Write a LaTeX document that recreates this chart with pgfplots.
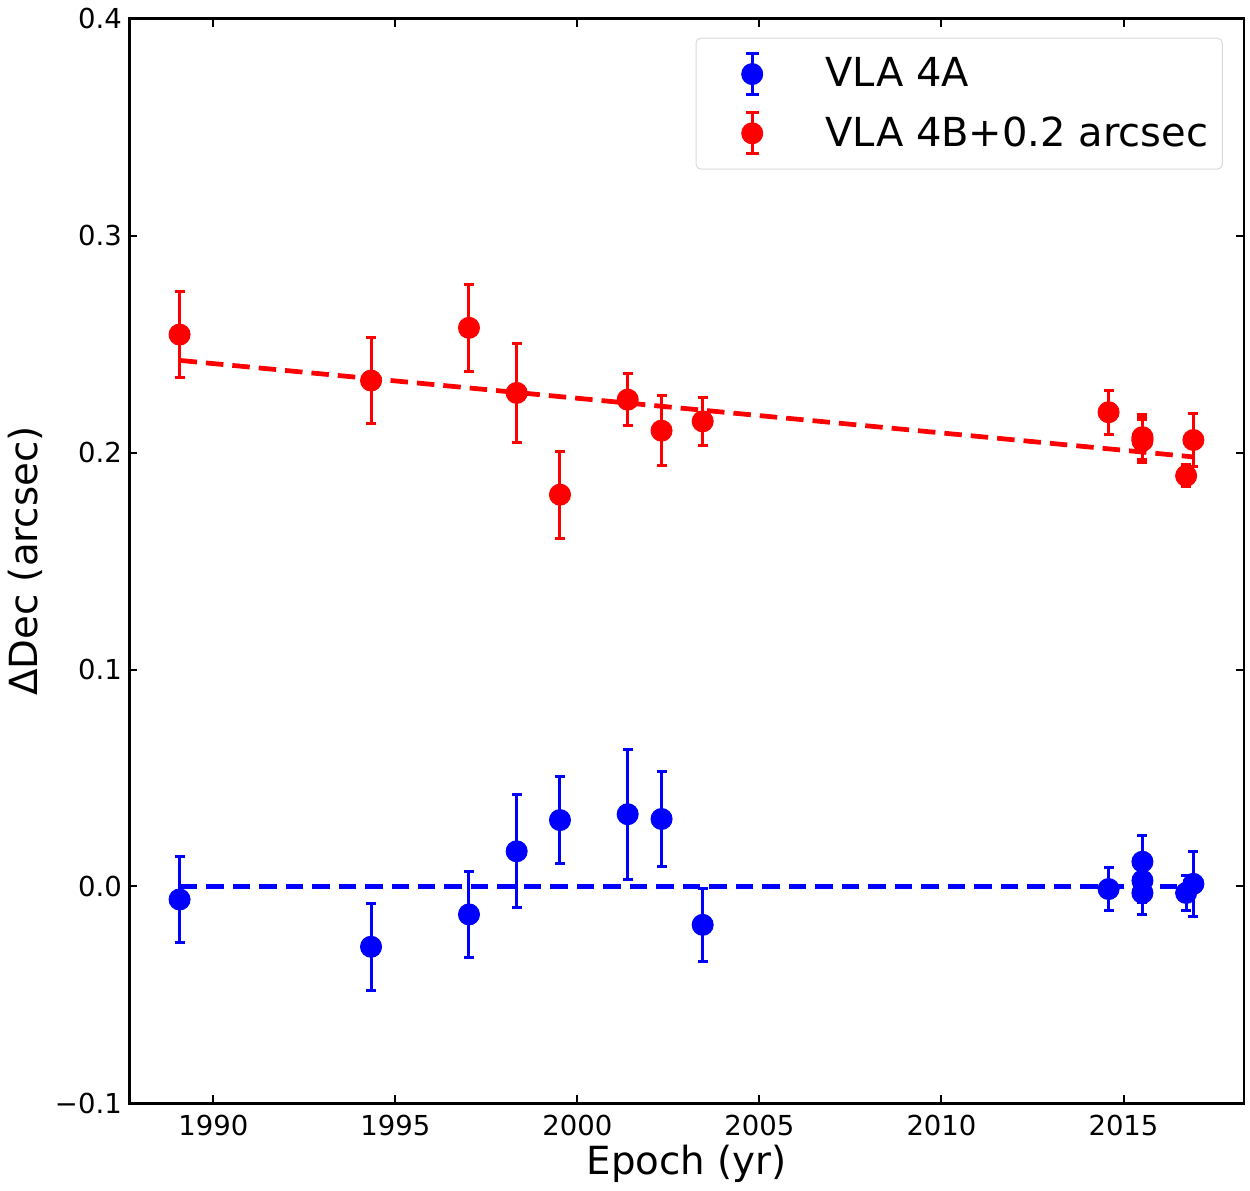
\documentclass[border=0pt]{standalone}
\usepackage{fontspec}
\setmainfont{DejaVu Sans}
\usepackage{pgfplots}
\pgfplotsset{compat=1.18}
\usepackage{pgfplotstable}

\pgfplotstableread{
x y e
1989.07 -0.0060 0.0200
1994.33 -0.0278 0.0200
1997.02 -0.0129 0.0200
1998.33 0.0162 0.0261
1999.52 0.0306 0.0200
2001.38 0.0333 0.0300
2002.31 0.0311 0.0220
2003.44 -0.0177 0.0167
2014.59 -0.0012 0.0098
2015.52 0.0114 0.0123
2015.52 0.0027 0.0100
2015.52 -0.0030 0.0101
2016.72 -0.0030 0.0080
2016.92 0.0012 0.0150
}\tblA

\pgfplotstableread{
x y e
1989.07 0.2544 0.0200
1994.33 0.2332 0.0200
1997.02 0.2575 0.0200
1998.33 0.2275 0.0230
1999.52 0.1806 0.0200
2001.38 0.2244 0.0119
2002.31 0.2101 0.0160
2003.44 0.2144 0.0110
2014.59 0.2186 0.0101
2015.52 0.2071 0.0105
2015.52 0.2054 0.0100
2015.52 0.2062 0.0100
2016.72 0.1893 0.0050
2016.92 0.2058 0.0122
}\tblB

\begin{document}
\begin{tikzpicture}
\begin{axis}[
  scale only axis, width=446pt, height=434pt,
  xmin=1987.69, xmax=2018.31, ymin=-0.1, ymax=0.4,
  xtick={1990,1995,2000,2005,2010,2015},
  xticklabels={1990,1995,2000,2005,2010,2015},
  ytick={-0.1,0,0.1,0.2,0.3,0.4},
  yticklabels={−0.1,0.0,0.1,0.2,0.3,0.4},
  tick align=inside, tick pos=both, major tick length=3.2pt,
  tick style={black, line width=0.8pt},
  axis line style={line width=1pt},
  ticklabel style={font=\fontsize{11}{13}\selectfont},
  xticklabel style={yshift=-1pt},
  yticklabel style={xshift=0.5pt},
  xlabel={Epoch (yr)}, ylabel={ΔDec (arcsec)},
  label style={font=\fontsize{15.5}{18}\selectfont},
  xlabel style={yshift=3pt},
  ylabel style={yshift=-2pt},
  legend style={at={(0.981,0.9825)}, anchor=north east, draw=black!15, rounded corners=2pt,
    font=\fontsize{16}{19}\selectfont, inner xsep=3.6pt, inner ysep=5.5pt,
    row sep=6pt},
  legend cell align=left,
  legend image code/.code={
    \draw[line width=1.2pt] (0.664cm,-0.29cm) -- (0.664cm,0.29cm);
    \draw[line width=1.2pt] (0.574cm,-0.29cm) -- (0.754cm,-0.29cm);
    \draw[line width=1.2pt] (0.574cm,0.29cm) -- (0.754cm,0.29cm);
    \fill (0.664cm,0cm) circle (4.2pt);
    \path[draw=none] (0,0) -- (1.625cm,0);
  },
]
\addplot[blue, line width=1.9pt, dash pattern=on 7pt off 3.6pt, forget plot] coordinates {(1989.07,0) (2016.92,0)};
\addplot[red, line width=1.9pt, dash pattern=on 7pt off 3.6pt, forget plot] coordinates {(1989.07,0.2425) (2016.92,0.1980)};
\addplot[blue, only marks, mark=*, mark size=4.2pt,
  error bars/.cd, y dir=both, y explicit,
  error bar style={line width=1.2pt, blue},
  error mark options={rotate=90, mark size=2pt, line width=1.2pt, blue}]
  table[x=x, y=y, y error=e] {\tblA};
\addlegendentry{VLA 4A}
\addplot[red, only marks, mark=*, mark size=4.2pt,
  error bars/.cd, y dir=both, y explicit,
  error bar style={line width=1.2pt, red},
  error mark options={rotate=90, mark size=2pt, line width=1.2pt, red}]
  table[x=x, y=y, y error=e] {\tblB};
\addlegendentry{VLA 4B+0.2 arcsec}
\end{axis}
\path (current axis.south east) -- ++(2.4pt,0);
\end{tikzpicture}
\end{document}
